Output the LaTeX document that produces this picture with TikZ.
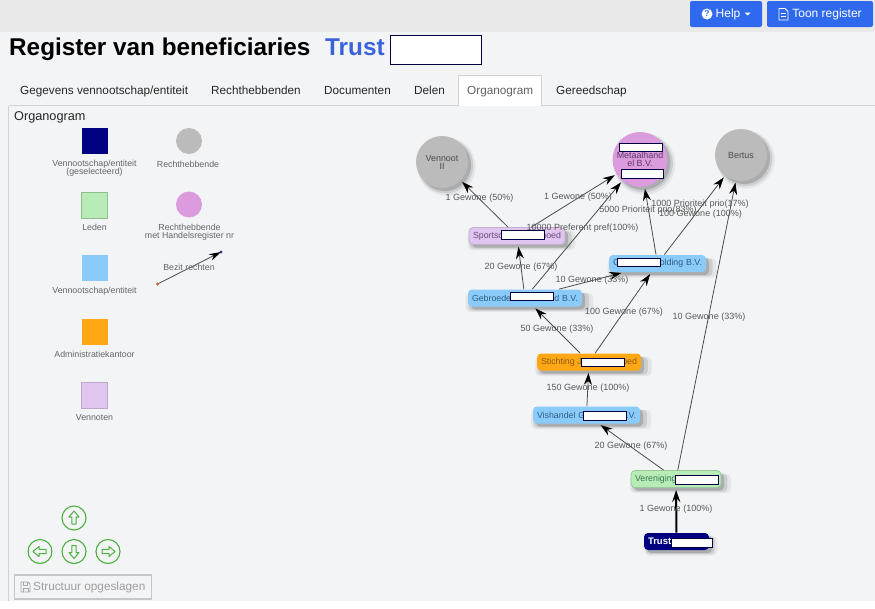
\documentclass[tikz,border=0pt]{standalone}
\usepackage{fontspec}
\setmainfont{Liberation Sans}
\usetikzlibrary{arrows.meta,shadows}
\newcommand{\fs}[1]{\fontsize{#1pt}{#1pt}\selectfont}
\tikzset{
  softshadow/.style={
    general shadow={shadow xshift=4pt,shadow yshift=-4pt,fill=black,opacity=.06,shadow scale=1.12},
    general shadow={shadow xshift=3.5pt,shadow yshift=-3.5pt,fill=black,opacity=.10,shadow scale=1.06},
    general shadow={shadow xshift=3pt,shadow yshift=-3pt,fill=black,opacity=.16}},
  orgbox/.style n args={3}{rectangle,rounded corners=4pt,inner xsep=4pt,inner ysep=0pt,
    minimum width=#1pt,minimum height=#2pt,text width=#1pt-8pt,align=left,font=\fs{8.8},
    softshadow,fill=#3,line width=.8pt},
  orgcircle/.style={circle,inner sep=0pt,minimum size=#1pt,align=center,font=\fs{8.9},softshadow,text=black!70},
  link/.style={draw=black!70,line width=.8pt,-{Stealth[length=12pt,width=8pt,black]},shorten >=2pt},
  elabel/.style={font=\fs{9},text=black!65,inner sep=0pt},
  legtext/.style={font=\fs{8.8},text=black!60,inner sep=0pt,align=center},
  legsq/.style={rectangle,inner sep=0pt,minimum size=26pt,line width=.8pt},
  legci/.style={circle,inner sep=0pt,minimum size=26pt},
  mask/.style={rectangle,fill=white,draw=black!75!blue,line width=.6pt,inner sep=0pt},
  tabtext/.style={font=\fs{11.75},text=black!85,inner sep=0pt,anchor=base west},
  topbtn/.style={rectangle,rounded corners=2pt,fill=btnblue,inner sep=0pt},
  navbtn/.style={circle,draw=navgreen,line width=1.1pt,minimum size=24pt,inner sep=0pt},
  navarrow/.style={draw=navgreen,line width=1pt,line join=round},
}
\definecolor{pagebg}{HTML}{F3F4F6}
\definecolor{topbg}{HTML}{E9E9E9}
\definecolor{btnblue}{HTML}{2F69EE}
\definecolor{navgreen}{HTML}{4CAF3E}
\definecolor{cgreen}{HTML}{B7ECB7}
\definecolor{cblue}{HTML}{8ACBFA}
\definecolor{corange}{HTML}{FFA814}
\definecolor{cpurple}{HTML}{E0C6EE}
\definecolor{cpink}{HTML}{DB9BDC}
\definecolor{cgray}{HTML}{BBBBBB}
\definecolor{cnavy}{HTML}{000080}
\definecolor{tblue}{HTML}{2C5E88}
\definecolor{tgreen}{HTML}{3D7A4D}
\definecolor{tpurple}{HTML}{6B4A7A}
\definecolor{torange}{HTML}{8A5A10}
\definecolor{tpink}{HTML}{5A3A6A}
\begin{document}
\begin{tikzpicture}[x=1pt,y=-1pt]
\useasboundingbox (0,0) rectangle (875,608);
% page
\fill[pagebg] (0,0) rectangle (875,608);
\fill[topbg] (0,0) rectangle (875,32);
\fill[white] (0,601) rectangle (875,608);
\draw[black!18,line width=1pt] (8.5,105.5) -- (8.5,601);
\draw[black!18,line width=1pt] (8.5,105.5) -- (458,105.5);
\draw[black!18,line width=1pt] (542,105.5) -- (875,105.5);
% top buttons
\node[topbtn,minimum width=72pt,minimum height=26pt] (helpbtn) at (726,14) {};
\node[topbtn,minimum width=106pt,minimum height=26pt] (regbtn) at (820,14) {};
\node[circle,fill=white,minimum size=11pt,inner sep=0pt,font=\bfseries\fs{8.5},text=btnblue] (helpicon) at (707,14) {?};
\node[inner sep=0pt,text=white,font=\fs{12}] (helptxt) at (728,14) {Help};
\fill[white] (744.5,12.5) -- (750.5,12.5) -- (747.5,15.5) -- cycle;
\draw[white,line width=.9pt] (779,8.5) -- (785,8.5) -- (788,11.5) -- (788,20) -- (779,20) -- cycle;
\draw[white,line width=.6pt] (781,13.5) -- (786,13.5) (781,16) -- (786,16);
\node[inner sep=0pt,text=white,font=\fs{12}] (regtxt) at (827,14) {Toon register};
% title
\node[anchor=base west,inner sep=0pt,font=\bfseries\fs{24.3}] (title) at (9,55) {Register van beneficiaries};
\node[anchor=base west,inner sep=0pt,font=\bfseries\fs{24.3},text=black] (trust) at (325,55) {\textcolor[HTML]{3A62DA}{Trust}};
\node[mask,minimum width=91pt,minimum height=29pt] (titlemask) at (435.5,49.5) {};
% tabs
\fill[white] (458.5,75.5) rectangle (541.5,106);
\draw[black!18,line width=1pt] (458.5,105.5) -- (458.5,75.5) -- (541.5,75.5) -- (541.5,105.5);
\node[tabtext] (tab1) at (20,94.5) {Gegevens vennootschap/entiteit};
\node[tabtext] (tab2) at (211,94.5) {Rechthebbenden};
\node[tabtext] (tab3) at (324,94.5) {Documenten};
\node[tabtext] (tab4) at (414,94.5) {Delen};
\node[tabtext,text=black!62] (tab5) at (467,94.5) {Organogram};
\node[tabtext] (tab6) at (556,94.5) {Gereedschap};
\node[anchor=base west,inner sep=0pt,font=\fs{12.7},text=black!85] (orgtitle) at (14,120) {Organogram};
% legend
\node[legsq,fill=cnavy] (l1) at (94.5,141) {};
\node[legtext] (l1t) at (94.5,168.5) {Vennootschap/entiteit\\[-.5pt](geselecteerd)};
\node[legsq,fill=cgreen,draw=black!20!cgreen] (l2) at (94.5,205) {};
\node[legtext] (l2t) at (94.5,227.5) {Leden};
\node[legsq,fill=cblue] (l3) at (94.5,268) {};
\node[legtext] (l3t) at (94.5,291) {Vennootschap/entiteit};
\node[legsq,fill=corange] (l4) at (94.5,331.5) {};
\node[legtext] (l4t) at (94.5,354.5) {Administratiekantoor};
\node[legsq,fill=cpurple,draw=black!15!cpurple] (l5) at (94.5,395) {};
\node[legtext] (l5t) at (94.5,418) {Vennoten};
\node[legci,fill=cgray] (l6) at (189,141) {};
\node[legtext] (l6t) at (188,164) {Rechthebbende};
\node[legci,fill=cpink] (l7) at (189,204.5) {};
\node[legtext] (l7t) at (189.5,232) {Rechthebbende\\[-.5pt]met Handelsregister nr};
\coordinate (legA) at (157.5,284);
\coordinate (legB) at (221,252);
\draw[black!70,line width=.8pt,-{Stealth[length=12pt,width=7pt,black]}] (legA) -- (legB);
\fill[brown!80!red] (legA) circle (1.6pt);
\fill[black!45!blue!60!gray] (legB) circle (1.6pt);
\node[legtext] (l8t) at (189,267.5) {Bezit rechten};
% nodes
\node[orgcircle=52,fill=cgray] (venn) at (442,162) {Vennoot\\[-1pt]II};
\node[orgcircle=55,fill=cpink,text=tpink] (metaal) at (640,159.5) {Metaalhand\\[-.5pt]el B.V.};
\node[orgcircle=52,fill=cgray] (bertus) at (741,155) {Bertus};
\node[orgbox={96}{17}{cpurple},draw=black!12!cpurple,text=tpurple] (sport) at (517,236) {Sportsc\hfill hoed};
\node[orgbox={97}{17}{cblue},text=tblue] (hold) at (657.5,263.5) {G\hfill olding B.V.};
\node[orgbox={114}{17}{cblue},text=tblue] (gebr) at (525,298) {Gebroede\hfill ed B.V.};
\node[orgbox={104}{17}{corange},text=torange] (stich) at (589,362) {Stichting J\hfill oed};
\node[orgbox={107}{17}{cblue},text=tblue] (vish) at (586.5,415) {Vishandel G\hfill .V.};
\node[orgbox={90}{17}{cgreen},draw=black!15!cgreen,text=tgreen] (vere) at (676,479) {Vereniging};
\node[orgbox={65}{17}{cnavy},text=white,font=\bfseries\fs{9.5}] (trustn) at (676.5,541.5) {Trust};
% connectors
\draw[link] (sport) -- (venn);
\draw[link] (sport) -- (metaal);
\draw[link] (gebr) -- (metaal);
\draw[link] (hold) -- (metaal);
\draw[link] (hold) -- (bertus);
\draw[link] (vere) -- (bertus);
\draw[link] (gebr) -- (sport);
\draw[link] (gebr) -- (hold);
\draw[link] (stich) -- (hold);
\draw[link] (stich) -- (gebr);
\draw[link] (vish) -- (stich);
\draw[link] (vere) -- (vish);
\draw[link,draw=black,line width=2pt] (trustn) -- (vere);
% edge labels
\node[elabel] (e1) at (479.5,198) {1 Gewone (50\%)};
\node[elabel] (e2) at (578,197) {1 Gewone (50\%)};
\node[elabel] (e3) at (582.5,228) {10000 Preferent pref(100\%)};
\node[elabel] (e4) at (648,210) {5000 Prioriteit prio(83\%)};
\node[elabel] (e5) at (700,204.5) {1000 Prioriteit prio(17\%)};
\node[elabel] (e6) at (700.5,214) {100 Gewone (100\%)};
\node[elabel] (e7) at (521,267) {20 Gewone (67\%)};
\node[elabel] (e8) at (592,280) {10 Gewone (33\%)};
\node[elabel] (e9) at (624,312) {100 Gewone (67\%)};
\node[elabel] (e10) at (709,317) {10 Gewone (33\%)};
\node[elabel] (e11) at (557,329) {50 Gewone (33\%)};
\node[elabel] (e12) at (588,388) {150 Gewone (100\%)};
\node[elabel] (e13) at (631,446.5) {20 Gewone (67\%)};
\node[elabel] (e14) at (676,509.5) {1 Gewone (100\%)};
% redaction boxes
\node[mask,minimum width=43pt,minimum height=8pt] (m1) at (640.5,147) {};
\node[mask,minimum width=42pt,minimum height=9pt] (m2) at (642,173.5) {};
\node[mask,minimum width=43pt,minimum height=9pt] (m3) at (522.5,234.5) {};
\node[mask,minimum width=43pt,minimum height=8pt] (m4) at (638.5,262) {};
\node[mask,minimum width=43pt,minimum height=8pt] (m5) at (531.5,296) {};
\node[mask,minimum width=43pt,minimum height=8pt] (m6) at (602.5,362) {};
\node[mask,minimum width=43pt,minimum height=9pt] (m7) at (604.5,415.5) {};
\node[mask,minimum width=43pt,minimum height=9pt] (m8) at (696.5,479.5) {};
\node[mask,minimum width=41pt,minimum height=9pt] (m9) at (691.5,542.5) {};
% navigation
\node[navbtn] (nup) at (74,518) {};
\node[navbtn] (nleft) at (40,551.5) {};
\node[navbtn] (ndown) at (74,551.5) {};
\node[navbtn] (nright) at (108,551.5) {};
\draw[navarrow,shift={(nup)}] (0,-7) -- (5,-1) -- (2.2,-1) -- (2.2,6) -- (-2.2,6) -- (-2.2,-1) -- (-5,-1) -- cycle;
\draw[navarrow,shift={(ndown)}] (0,7) -- (5,1) -- (2.2,1) -- (2.2,-6) -- (-2.2,-6) -- (-2.2,1) -- (-5,1) -- cycle;
\draw[navarrow,shift={(nleft)}] (-7,0) -- (-1,-5) -- (-1,-2.2) -- (6,-2.2) -- (6,2.2) -- (-1,2.2) -- (-1,5) -- cycle;
\draw[navarrow,shift={(nright)}] (7,0) -- (1,-5) -- (1,-2.2) -- (-6,-2.2) -- (-6,2.2) -- (1,2.2) -- (1,5) -- cycle;
% save button
\node[rectangle,draw=black!22,line width=1.6pt,minimum width=137pt,minimum height=24pt,inner sep=0pt] (savebtn) at (83,587) {};
\draw[black!35,line width=.8pt] (21,582) -- (28,582) -- (30,584) -- (30,592) -- (21,592) -- cycle;
\draw[black!35,line width=.6pt] (23,582) -- (23,585) -- (27,585) -- (27,582) (23,592) -- (23,588) -- (28,588) -- (28,592);
\node[anchor=west,inner sep=0pt,font=\fs{11.8},text=black!38] (savetxt) at (33,587.5) {Structuur opgeslagen};
\end{tikzpicture}
\end{document}
